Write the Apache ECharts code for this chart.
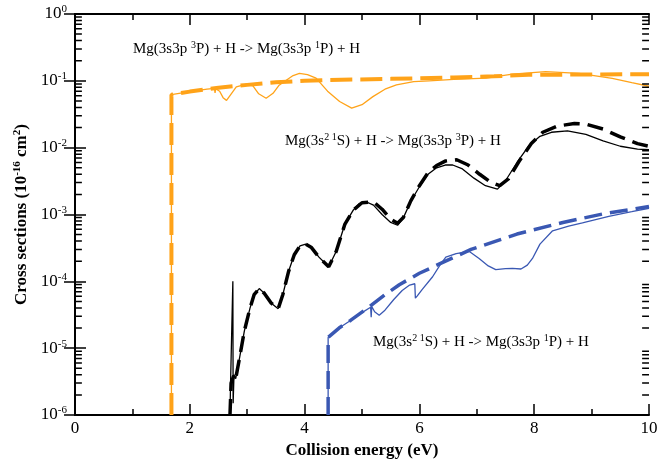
<!DOCTYPE html>
<html>
<head>
<meta charset="utf-8">
<script src="https://cdn.jsdelivr.net/npm/echarts@6/dist/echarts.min.js"></script>
<style>
html,body{margin:0;padding:0;background:#fff;}
#chart{width:657px;height:461px;}
</style>
</head>
<body>
<div id="chart"></div>
<script>
// ---- data (x: collision energy eV, y: cross section 1e-16 cm^2) ----
const xTicks = [0, 2, 4, 6, 8, 10];
const yTickExponents = [-6, -5, -4, -3, -2, -1, 0];

const orangeDashed = [[1.68,1e-6],[1.68,6.2e-2],[2.0,6.9e-2],[2.5,7.9e-2],[3.0,8.7e-2],[3.5,9.5e-2],[4.0,1.0e-1],[4.43,1.03e-1],[5.5,1.07e-1],[6.6,1.12e-1],[7.3,1.17e-1],[7.9,1.23e-1],[10,1.26e-1]];
const orangeSolid = [[1.68,1e-6],[1.68,6.2e-2],[2.0,6.9e-2],[2.3,7.5e-2],[2.43,7.7e-2],[2.44,6.6e-2],[2.45,7.6e-2],[2.52,7.0e-2],[2.58,5.6e-2],[2.64,5.1e-2],[2.70,6.0e-2],[2.81,8.1e-2],[2.99,8.9e-2],[3.1,8.4e-2],[3.2,6.4e-2],[3.33,5.5e-2],[3.45,6.5e-2],[3.55,8.5e-2],[3.68,1.02e-1],[3.8,1.2e-1],[3.91,1.29e-1],[4.05,1.24e-1],[4.2,1.10e-1],[4.4,7.0e-2],[4.61,4.9e-2],[4.82,3.9e-2],[5.0,4.4e-2],[5.19,5.8e-2],[5.4,7.5e-2],[5.6,8.7e-2],[5.9,9.7e-2],[6.17,1.0e-1],[6.6,1.05e-1],[7.16,1.10e-1],[7.62,1.26e-1],[8.2,1.37e-1],[8.78,1.29e-1],[9.36,1.09e-1],[9.7,9.4e-2],[10,8.3e-2]];

const blackSolid = [[2.70,1e-6],[2.71,3e-6],[2.75,1e-4],[2.755,1.5e-6],[2.77,4e-6],[2.80,3.5e-6],[2.87,7.4e-6],[2.95,1.8e-5],[3.05,4.0e-5],[3.12,6.3e-5],[3.21,7.8e-5],[3.30,6.6e-5],[3.42,4.7e-5],[3.54,3.9e-5],[3.62,6.3e-5],[3.72,1.4e-4],[3.82,2.5e-4],[3.92,3.4e-4],[4.02,3.6e-4],[4.12,3.2e-4],[4.25,2.3e-4],[4.42,1.65e-4],[4.55,2.8e-4],[4.70,7.1e-4],[4.85,1.17e-3],[4.95,1.45e-3],[5.07,1.55e-3],[5.20,1.38e-3],[5.35,1.0e-3],[5.50,7.6e-4],[5.62,6.9e-4],[5.72,8.9e-4],[5.85,1.58e-3],[6.00,2.6e-3],[6.15,4.0e-3],[6.30,5.0e-3],[6.45,5.5e-3],[6.58,5.5e-3],[6.75,4.8e-3],[6.95,3.5e-3],[7.15,2.7e-3],[7.36,2.4e-3],[7.5,3.2e-3],[7.7,6.0e-3],[7.9,1.05e-2],[8.1,1.48e-2],[8.3,1.7e-2],[8.58,1.78e-2],[8.9,1.58e-2],[9.2,1.26e-2],[9.5,1.05e-2],[9.8,9.5e-3],[10,9.3e-3]];
const blackDashed = [[2.70,1e-6],[2.72,3e-6],[2.77,4e-6],[2.80,3.5e-6],[2.87,7.4e-6],[2.95,1.8e-5],[3.05,4.0e-5],[3.12,6.3e-5],[3.21,7.8e-5],[3.30,6.6e-5],[3.42,4.7e-5],[3.54,3.9e-5],[3.62,6.3e-5],[3.72,1.4e-4],[3.82,2.5e-4],[3.92,3.4e-4],[4.02,3.6e-4],[4.12,3.2e-4],[4.25,2.3e-4],[4.42,1.65e-4],[4.55,2.8e-4],[4.70,7.1e-4],[4.85,1.17e-3],[5.0,1.5e-3],[5.2,1.55e-3],[5.35,1.2e-3],[5.5,8.5e-4],[5.62,7.4e-4],[5.72,9.0e-4],[5.85,1.6e-3],[6.0,2.7e-3],[6.15,4.2e-3],[6.3,5.4e-3],[6.45,6.3e-3],[6.65,6.6e-3],[6.85,5.5e-3],[7.05,4.0e-3],[7.25,3.0e-3],[7.4,2.7e-3],[7.55,3.4e-3],[7.75,6.5e-3],[7.95,1.15e-2],[8.15,1.7e-2],[8.4,2.1e-2],[8.7,2.3e-2],[8.9,2.25e-2],[9.2,1.9e-2],[9.5,1.45e-2],[9.8,1.15e-2],[10,1.05e-2]];

const blueDashed = [[4.41,1e-6],[4.41,1.45e-5],[4.6,2.0e-5],[4.8,2.6e-5],[5.1,4.0e-5],[5.4,6.3e-5],[5.65,8.9e-5],[6.0,1.32e-4],[6.35,1.82e-4],[6.9,3.0e-4],[7.7,5.1e-4],[8.5,7.6e-4],[9.2,1.02e-3],[10,1.32e-3]];
const blueSolid = [[4.41,1e-6],[4.41,1.45e-5],[4.6,2.0e-5],[4.8,2.6e-5],[5.0,3.4e-5],[5.15,4.1e-5],[5.16,2.9e-5],[5.17,4.2e-5],[5.22,3.5e-5],[5.30,3.1e-5],[5.40,3.7e-5],[5.55,5.3e-5],[5.7,7.3e-5],[5.83,8.8e-5],[5.92,9.2e-5],[5.93,5.6e-5],[5.96,6.0e-5],[6.05,7.6e-5],[6.23,1.17e-4],[6.35,1.7e-4],[6.46,2.3e-4],[6.64,2.6e-4],[6.87,2.8e-4],[7.04,2.2e-4],[7.2,1.7e-4],[7.33,1.5e-4],[7.5,1.55e-4],[7.62,1.56e-4],[7.77,1.53e-4],[7.88,1.75e-4],[7.97,2.2e-4],[8.1,3.6e-4],[8.32,5.7e-4],[8.6,6.7e-4],[8.84,7.5e-4],[9.3,9.4e-4],[9.7,1.1e-3],[10,1.24e-3]];

// minor tick values for the log axis (2..9 x 10^n)
const logMinorTicks = [];
for (let n = -6; n < 0; n++) for (let k = 2; k <= 9; k++) logMinorTicks.push(k * Math.pow(10, n));

const X_MIN = 0, X_MAX = 10;
const MINOR_TICK_LEN = 0.12; // in x data units (~7 px)

const ORANGE = '#FFA319';
const BLUE = '#3A58B3';
const FONT = 'Liberation Serif';

const chart = echarts.init(document.getElementById('chart'));

const baseAxisLine = {show: true, lineStyle: {color: '#000', width: 2}};
const yRich = {
  b: {fontFamily: FONT, fontSize: 17, color: '#000', lineHeight: 20},
  e: {fontFamily: FONT, fontSize: 11, color: '#000', lineHeight: 10, verticalAlign: 'top'}
};
const annRich = {
  t: {fontFamily: FONT, fontSize: 15, color: '#000', lineHeight: 18},
  s: {fontFamily: FONT, fontSize: 10, color: '#000', lineHeight: 9, verticalAlign: 'top'}
};

function lineSeries(data, color, width, dash) {
  return {
    type: 'line', data: data, showSymbol: false, symbol: 'none', animation: false,
    lineStyle: {color: color, width: width, type: dash || 'solid', cap: 'butt'},
    z: dash ? 3 : 4, silent: true
  };
}

// minor log ticks drawn as broken line segments through the axis scales
function minorTickLine(side) {
  const data = [];
  logMinorTicks.forEach(function (v) {
    if (side === 'left') { data.push([X_MIN, v], [X_MIN + MINOR_TICK_LEN, v]); }
    else { data.push([X_MAX - MINOR_TICK_LEN, v], [X_MAX, v]); }
    data.push(['-', '-']);
  });
  return {
    type: 'line', data: data, showSymbol: false, symbol: 'none', animation: false,
    connectNulls: false, silent: true, z: 10,
    lineStyle: {color: '#000', width: 1.5, type: 'solid', cap: 'butt'}
  };
}

const option = {
  animation: false,
  backgroundColor: '#fff',
  grid: {left: 75, right: 8, top: 14, bottom: 46, outerBoundsMode: 'none'},
  xAxis: [{
    type: 'value', min: X_MIN, max: X_MAX, interval: 2, position: 'bottom',
    axisLine: baseAxisLine,
    axisTick: {inside: true, length: 11, lineStyle: {color: '#000', width: 1.5}},
    minorTick: {show: true, splitNumber: 2, length: 6, lineStyle: {color: '#000', width: 1.5}},
    splitLine: {show: false},
    axisLabel: {fontFamily: FONT, fontSize: 17, color: '#000', margin: 5,
      formatter: v => xTicks.indexOf(v) >= 0 ? String(v) : ''},
    name: 'Collision energy (eV)', nameLocation: 'middle', nameGap: 23,
    nameTextStyle: {fontFamily: FONT, fontSize: 17, fontWeight: 'bold', color: '#000'}
  }, {
    type: 'value', min: X_MIN, max: X_MAX, interval: 2, position: 'top',
    axisLine: baseAxisLine,
    axisTick: {inside: true, length: 11, lineStyle: {color: '#000', width: 1.5}},
    minorTick: {show: true, splitNumber: 2, length: 6, lineStyle: {color: '#000', width: 1.5}},
    splitLine: {show: false}, axisLabel: {show: false}
  }],
  yAxis: [{
    type: 'log', logBase: 10, min: 1e-6, max: 1, splitNumber: 6, position: 'left',
    axisLine: baseAxisLine,
    axisTick: {inside: true, length: 11, lineStyle: {color: '#000', width: 1.5}},
    splitLine: {show: false},
    axisLabel: {margin: 8, formatter: function (v) {
      const e = Math.round(Math.log10(v));
      return yTickExponents.indexOf(e) >= 0 ? '{b|10}{e|' + e + '}' : '';
    }, rich: yRich},
    name: '{n|Cross sections (10}{s|-16}{n| cm}{s|2}{n|)}', nameLocation: 'middle', nameGap: 38,
    nameTextStyle: {rich: {
      n: {fontFamily: FONT, fontSize: 17, fontWeight: 'bold', color: '#000', lineHeight: 20},
      s: {fontFamily: FONT, fontSize: 11, fontWeight: 'bold', color: '#000', lineHeight: 10, verticalAlign: 'top'}
    }}
  }, {
    type: 'log', logBase: 10, min: 1e-6, max: 1, splitNumber: 6, position: 'right',
    axisLine: baseAxisLine,
    axisTick: {inside: true, length: 11, lineStyle: {color: '#000', width: 1.5}},
    splitLine: {show: false}, axisLabel: {show: false}
  }],
  series: [
    lineSeries(orangeDashed, ORANGE, 4, [22, 8]),
    lineSeries(orangeSolid, ORANGE, 1.3),
    lineSeries(blackDashed, '#000', 3.5, [16, 8]),
    lineSeries(blackSolid, '#000', 1.3),
    lineSeries(blueDashed, BLUE, 3.5, [18, 8]),
    lineSeries(blueSolid, BLUE, 1.3),
    minorTickLine('left'),
    minorTickLine('right')
  ],
  graphic: [
    {type: 'text', x: 133, y: 49, style: {text: '{t|Mg(3s3p }{s|3}{t|P) + H -> Mg(3s3p }{s|1}{t|P) + H}', rich: annRich, verticalAlign: 'middle', align: 'left'}},
    {type: 'text', x: 285, y: 141, style: {text: '{t|Mg(3s}{s|2 1}{t|S) + H -> Mg(3s3p }{s|3}{t|P) + H}', rich: annRich, verticalAlign: 'middle', align: 'left'}},
    {type: 'text', x: 373, y: 342, style: {text: '{t|Mg(3s}{s|2 1}{t|S) + H -> Mg(3s3p }{s|1}{t|P) + H}', rich: annRich, verticalAlign: 'middle', align: 'left'}}
  ]
};
chart.setOption(option);
</script>
</body>
</html>
